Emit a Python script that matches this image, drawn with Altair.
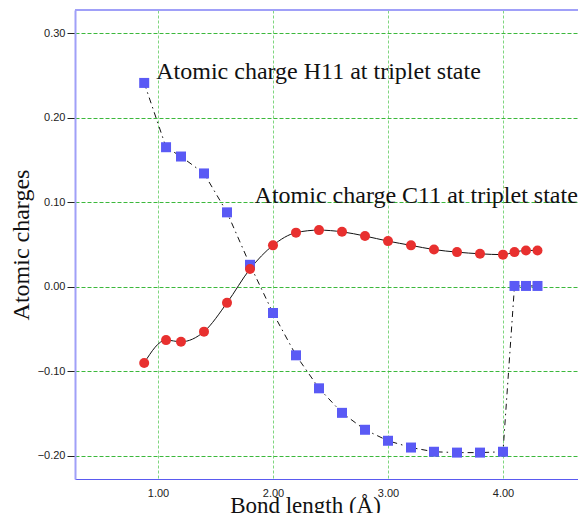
import altair as alt
import pandas as pd

bond = [0.88, 1.07, 1.20, 1.40, 1.60, 1.80, 2.00, 2.20, 2.40, 2.60, 2.80, 3.00,
        3.20, 3.40, 3.60, 3.80, 4.00, 4.10, 4.20, 4.30]
h11 = [0.241, 0.165, 0.154, 0.134, 0.088, 0.026, -0.031, -0.081, -0.120, -0.149,
       -0.169, -0.182, -0.190, -0.195, -0.196, -0.196, -0.195, 0.001, 0.001, 0.001]
c11 = [-0.090, -0.063, -0.065, -0.053, -0.019, 0.021, 0.049, 0.064, 0.067, 0.065,
       0.060, 0.054, 0.049, 0.044, 0.041, 0.039, 0.038, 0.041, 0.043, 0.043]

labels = ["Atomic charge H11 at triplet state", "Atomic charge C11 at triplet state"]
label_x = [0.985, 1.84]
label_y = [0.246, 0.0994]

x_ticks = [1, 2, 3, 4]
y_ticks = [-0.2, -0.1, 0.0, 0.1, 0.2, 0.3]

df_h = pd.DataFrame({"x": bond, "y": h11})
df_c = pd.DataFrame({"x": bond, "y": c11})
df_t = pd.DataFrame({"x": label_x, "y": label_y, "t": labels})

W = 503
xs = alt.Scale(domain=[0.2783, 0.2783 + W / 115.0], nice=False, zero=False)
ys = alt.Scale(domain=[-0.2272, 0.3272], nice=False, zero=False)

xax = alt.Axis(values=x_ticks, format=".2f", title="Bond length (Å)",
               grid=True, gridColor="#7fd67f", gridDash=[3, 2], gridWidth=1,
               ticks=False, labelPadding=8, labelFont="Liberation Sans",
               labelFontSize=11, labelColor="#222222",
               domainColor="#5a5af0", domainWidth=1,
               titleFont="Liberation Serif", titleFontSize=23, titleFontWeight="normal",
               titleColor="#111111", titleX=230, titleY=33, titleAlign="center",
               titleBaseline="alphabetic")
yax = alt.Axis(values=y_ticks, format=".2f", title="Atomic charges",
               grid=True, gridColor="#3cb83c", gridDash=[4, 2], gridWidth=1,
               ticks=True, tickSize=8, tickColor="#222222", labelPadding=2,
               labelFont="Liberation Sans", labelFontSize=11, labelColor="#222222",
               domainColor="#a0a0f8", domainWidth=2,
               titleFont="Liberation Serif", titleFontSize=24, titleFontWeight="normal",
               titleColor="#111111", titlePadding=4)

X = alt.X("x:Q", scale=xs, axis=xax)
Y = alt.Y("y:Q", scale=ys, axis=yax)

top_border = alt.Chart(df_t).mark_rule(color="#a0a0f8", strokeWidth=2).encode(
    x=alt.value(0), x2=alt.value(W), y=alt.value(0))
line_c = alt.Chart(df_c).mark_line(color="#111111", strokeWidth=1,
                                   interpolate="monotone").encode(x=X, y=Y)
line_h = alt.Chart(df_h).mark_line(color="#111111", strokeWidth=1,
                                   strokeDash=[6, 4, 1.5, 4]).encode(x=X, y=Y)
pts_h = alt.Chart(df_h).mark_point(shape="square", filled=True, color="#5a5af5",
                                   size=100, opacity=1).encode(x=X, y=Y)
pts_c = alt.Chart(df_c).mark_point(shape="circle", filled=True, color="#e8302f",
                                   size=100, opacity=1).encode(x=X, y=Y)
txt = alt.Chart(df_t).mark_text(align="left", baseline="alphabetic",
                                font="Liberation Serif", fontSize=24,
                                color="#111111").encode(x=X, y=Y, text="t:N")

chart = alt.layer(line_c, line_h, pts_h, pts_c, txt, top_border).properties(
    width=W, height=469,
    autosize=alt.AutoSizeParams(type="none"),
    padding={"left": 67, "top": 2, "right": 0, "bottom": 34},
).configure_view(stroke=None).configure(background="white")

chart.save("out.html", embed_options={"renderer": "svg", "actions": False})
